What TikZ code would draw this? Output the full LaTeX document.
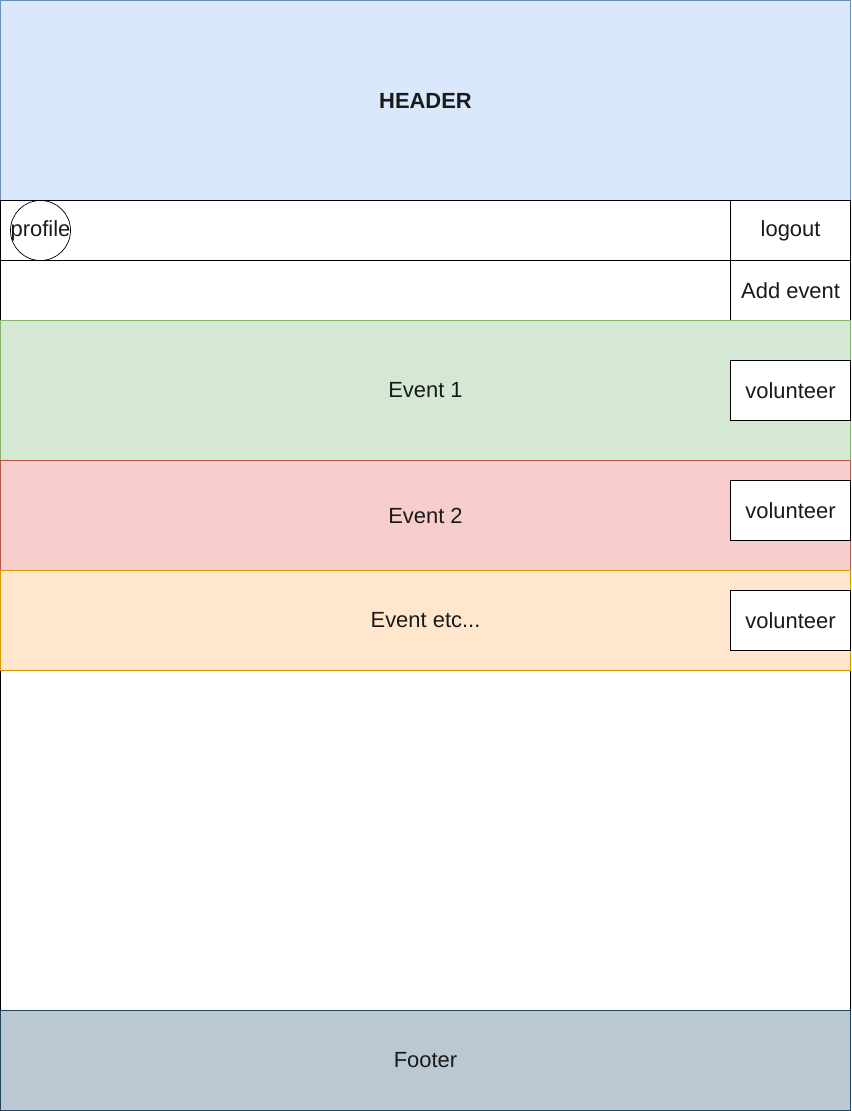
\documentclass[tikz,border=0pt]{standalone}
\usepackage{fontspec}
\setmainfont{Liberation Sans}
\usetikzlibrary{positioning}

\definecolor{headerfill}{HTML}{DAE8FC}
\definecolor{headerline}{HTML}{6C8EBF}
\definecolor{greenfill}{HTML}{D5E8D4}
\definecolor{greenline}{HTML}{82B366}
\definecolor{redfill}{HTML}{F8CECC}
\definecolor{redline}{HTML}{B85450}
\definecolor{orangefill}{HTML}{FFE6CC}
\definecolor{orangeline}{HTML}{D79B00}
\definecolor{footerfill}{HTML}{BAC8D3}
\definecolor{footerline}{HTML}{23445D}
\definecolor{txt}{HTML}{1A1A1A}

\begin{document}
\begin{tikzpicture}[x=0.025cm,y=-0.025cm,
        every node/.style={font=\fontsize{15.6}{18}\selectfont, text=txt},
        panel/.style={draw, rectangle, inner sep=0pt, line width=0.7pt,
            minimum width=21.25cm},
        btn/.style={draw, rectangle, inner sep=0pt, line width=0.7pt, fill=white,
            minimum width=3cm, minimum height=1.5cm},
        avatar/.style={draw, circle, inner sep=0pt, line width=0.5pt,
            minimum size=1.5cm}
    ]
        \useasboundingbox (0,0) rectangle (851,1111);

        % page frame and header
        \node[panel, minimum height=20.25cm] (body) at (425.5,605.5) {};
        \node[panel, fill=headerfill, draw=headerline, minimum height=5cm,
            font=\fontsize{15.6}{18}\selectfont\bfseries] (header) at (425.5,100.5) {HEADER};

        % top bars
        \node[panel, minimum height=1.5cm] (topbar) at (425.5,230.5) {};
        \node[panel, minimum height=1.5cm] (addbar) at (425.5,290.5) {};
        \node[btn, anchor=north east] (logout) at (topbar.north east) {logout};
        \node[btn, anchor=north east] (addevent) at (addbar.north east) {Add event};
        \node[avatar, label={[inner sep=0pt]center:profile}] (profile) at (40.5,230.5) {};

        % events
        \node[panel, fill=greenfill, draw=greenline, minimum height=3.5cm] (event1) at (425.5,390.5) {Event 1};
        \node[panel, fill=redfill, draw=redline, minimum height=2.75cm] (event2) at (425.5,515.5) {Event 2};
        \node[panel, fill=orangefill, draw=orangeline, minimum height=2.5cm] (event3) at (425.5,620.5) {Event etc...};
        \node[btn] (vol1) at (790.5,390.5) {volunteer};
        \node[btn] (vol2) at (790.5,510.5) {volunteer};
        \node[btn] (vol3) at (790.5,620.5) {volunteer};

        % footer
        \node[panel, fill=footerfill, draw=footerline, minimum height=2.5cm] (footer) at (425.5,1060.5) {Footer};
    \end{tikzpicture}
\end{document}
